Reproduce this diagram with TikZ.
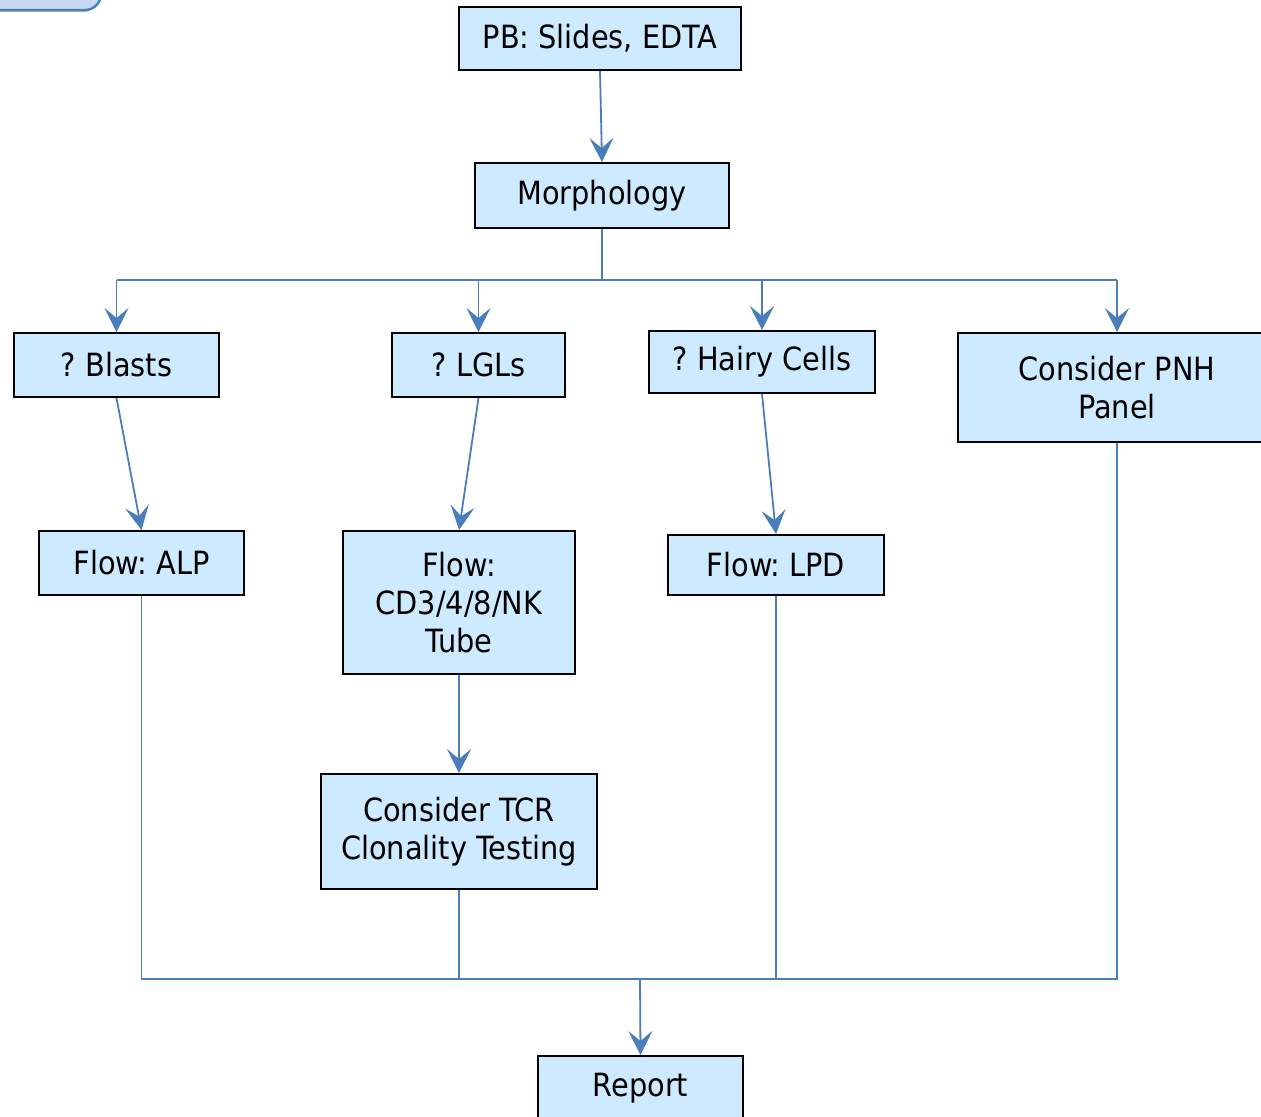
\documentclass[tikz,border=0pt]{standalone}
\usepackage{fontspec}
\setmainfont{DejaVu Sans Condensed}
\usepackage{xcolor}
\usetikzlibrary{arrows.meta}

\definecolor{boxfill}{HTML}{CDEAFE}
\definecolor{linkblue}{HTML}{4A7EBB}
\definecolor{tabfill}{HTML}{C6D9F1}

\tikzset{
	box/.style={draw=black,line width=1pt,fill=boxfill,align=center,inner sep=2pt,
		font=\fontsize{16}{19}\selectfont\frenchspacing},
	link/.style={draw=linkblue,line width=0.9pt},
	flowarrow/.style={link,-{Stealth[length=12pt,width=12pt,inset=5pt]}}
}

\begin{document}
\begin{tikzpicture}[x=0.5pt,y=-0.5pt]
				\useasboundingbox (0,0) rectangle (1261,1116);
				\fill[gray!60,rounded corners=8pt] (-40,-40) rectangle (99,12);
				\draw[linkblue,line width=1.2pt,fill=tabfill,rounded corners=8pt] (-40,-40) rectangle (101,10);
				\node[box,minimum width=141pt,minimum height=31.5pt] (pb) at (600,38.5) {PB: Slides, EDTA};
				\node[box,minimum width=127pt,minimum height=32.5pt] (morph) at (602,195.5) {Morphology};
				\node[box,minimum width=102.5pt,minimum height=32pt] (blasts) at (116.5,365) {? Blasts};
				\node[box,minimum width=86.5pt,minimum height=32pt] (lgl) at (478.5,365) {? LGLs};
				\node[box,minimum width=113pt,minimum height=31pt] (hairy) at (762,362) {? Hairy Cells};
				\node[box,minimum width=159pt,minimum height=54.5pt] (pnh) at (1117,387.5) {Consider PNH\\Panel};
				\node[box,minimum width=102.5pt,minimum height=32pt] (alp) at (141.5,563) {Flow: ALP};
				\node[box,minimum width=116pt,minimum height=71.5pt] (tcell) at (459,602.5) {Flow:\\CD3/4/8/NK\\Tube};
				\node[box,minimum width=108pt,minimum height=30pt] (lpd) at (776,565) {Flow: LPD};
				\node[box,minimum width=138pt,minimum height=57.5pt] (tcr) at (459,831.5) {Consider TCR\\Clonality Testing};
				\node[box,minimum width=102.5pt,minimum height=32pt] (report) at (640.5,1088) {Report};
				% top part
				\draw[flowarrow] (pb.south) -- (morph.north);
				\draw[link] (morph.south) -- ++(0,51) coordinate (split);
				\draw[link] (split -| blasts) -- (split -| pnh);
				\foreach \n in {blasts,lgl,hairy,pnh}
					\draw[flowarrow] (split -| \n) -- (\n.north);
				\draw[flowarrow] (blasts.south) -- (alp.north);
				\draw[flowarrow] (lgl.south) -- (tcell.north);
				\draw[flowarrow] (hairy.south) -- (lpd.north);
				\draw[flowarrow] (tcell.south) -- (tcr.north);
				% bottom part
				\coordinate (join) at (640,979);
				\draw[link] (alp.south) -- (alp |- join) -- (pnh |- join) -- (pnh.south);
				\draw[link] (tcr.south) -- (tcr |- join);
				\draw[link] (lpd.south) -- (lpd |- join);
				\draw[flowarrow] (join) -- (report.north);
			\end{tikzpicture}
\end{document}
